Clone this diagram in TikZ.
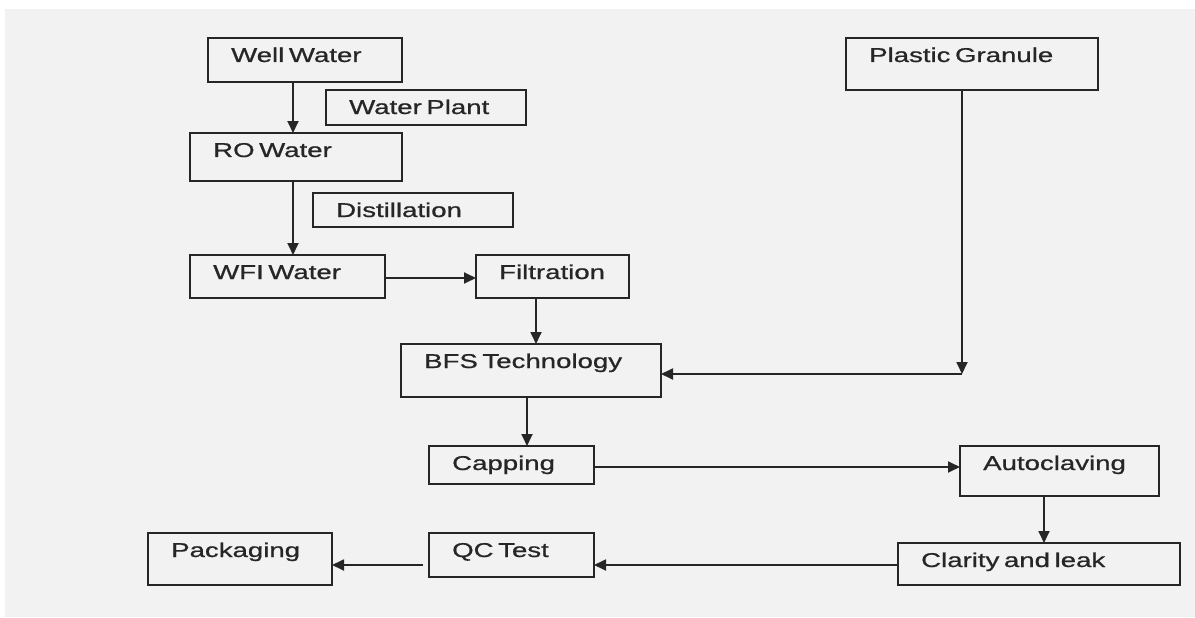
\documentclass[tikz,border=0pt]{standalone}
\usepackage{fontspec}
\setmainfont{Liberation Sans}[WordSpace=0.6,FakeBold=0.7]
\usepackage{graphicx}
\usetikzlibrary{arrows.meta,fit,calc}
\definecolor{bg}{HTML}{F2F2F2}
\definecolor{ink}{HTML}{262626}
\newcommand{\wtxt}[1]{\scalebox{1.38}[1]{#1}}
\newcommand{\flowbox}[6]{%
  \coordinate (#1-a) at (#2,#3);
  \coordinate (#1-b) at (#4,#5);
  \node[box,fit=(#1-a)(#1-b)] (#1) {};
  \node[lbl] (#1-t) at ($(#1.north west)+(23,24)$) {\wtxt{#6}};}
\begin{document}
\begin{tikzpicture}[x=1pt,y=-1pt,
  box/.style={draw=ink,line width=2.1pt,inner sep=0pt,outer sep=0pt},
  lbl/.style={anchor=base west,inner sep=0pt,text=ink,font=\fontsize{20}{24}\selectfont},
  arr/.style={draw=ink,line width=1.8pt,-{Triangle[length=12pt,width=11pt]}}
]
\useasboundingbox (0,0) rectangle (1195,618);
\fill[bg] (5,9) rectangle (1195,617);

\flowbox{ww}{208}{38}{402}{82}{Well Water}
\flowbox{wp}{326}{90}{526}{125}{Water Plant}
\flowbox{ro}{190}{133}{402}{181}{RO Water}
\flowbox{di}{313}{193}{513}{227}{Distillation}
\flowbox{wfi}{190}{255}{385}{298}{WFI Water}
\flowbox{fi}{476}{255}{629}{298}{Filtration}
\flowbox{pg}{846}{38}{1098}{90}{Plastic Granule}
\flowbox{bfs}{401}{344}{661}{397}{BFS Technology}
\flowbox{cap}{429}{446}{594}{484}{Capping}
\flowbox{auto}{960}{446}{1159}{496}{Autoclaving}
\flowbox{cl}{898}{543}{1180}{585}{Clarity and leak}
\flowbox{qc}{429}{533}{594}{577}{QC Test}
\flowbox{pk}{148}{533}{332}{585}{Packaging}

\coordinate (x293) at (293,0);
\coordinate (x536) at (536,0);
\coordinate (x527) at (527,0);
\coordinate (x1044) at (1044,0);
\coordinate (y278) at (0,278);
\coordinate (y467) at (0,467);
\coordinate (y565) at (0,565);
\coordinate (pgc) at (962,374);

\draw[arr] (ww.south -| x293) -- (ro.north -| x293);
\draw[arr] (ro.south -| x293) -- (wfi.north -| x293);
\draw[arr] (wfi.east |- y278) -- (fi.west |- y278);
\draw[arr] (fi.south -| x536) -- (bfs.north -| x536);
\draw[arr] (pg.south -| pgc) -- (pgc);
\draw[arr] (pgc) -- (bfs.east |- pgc);
\draw[arr] (bfs.south -| x527) -- (cap.north -| x527);
\draw[arr] (cap.east |- y467) -- (auto.west |- y467);
\draw[arr] (auto.south -| x1044) -- (cl.north -| x1044);
\draw[arr] (cl.west |- y565) -- (qc.east |- y565);
\draw[arr,shorten <=6pt] (qc.west |- y565) -- (pk.east |- y565);
\end{tikzpicture}
\end{document}
